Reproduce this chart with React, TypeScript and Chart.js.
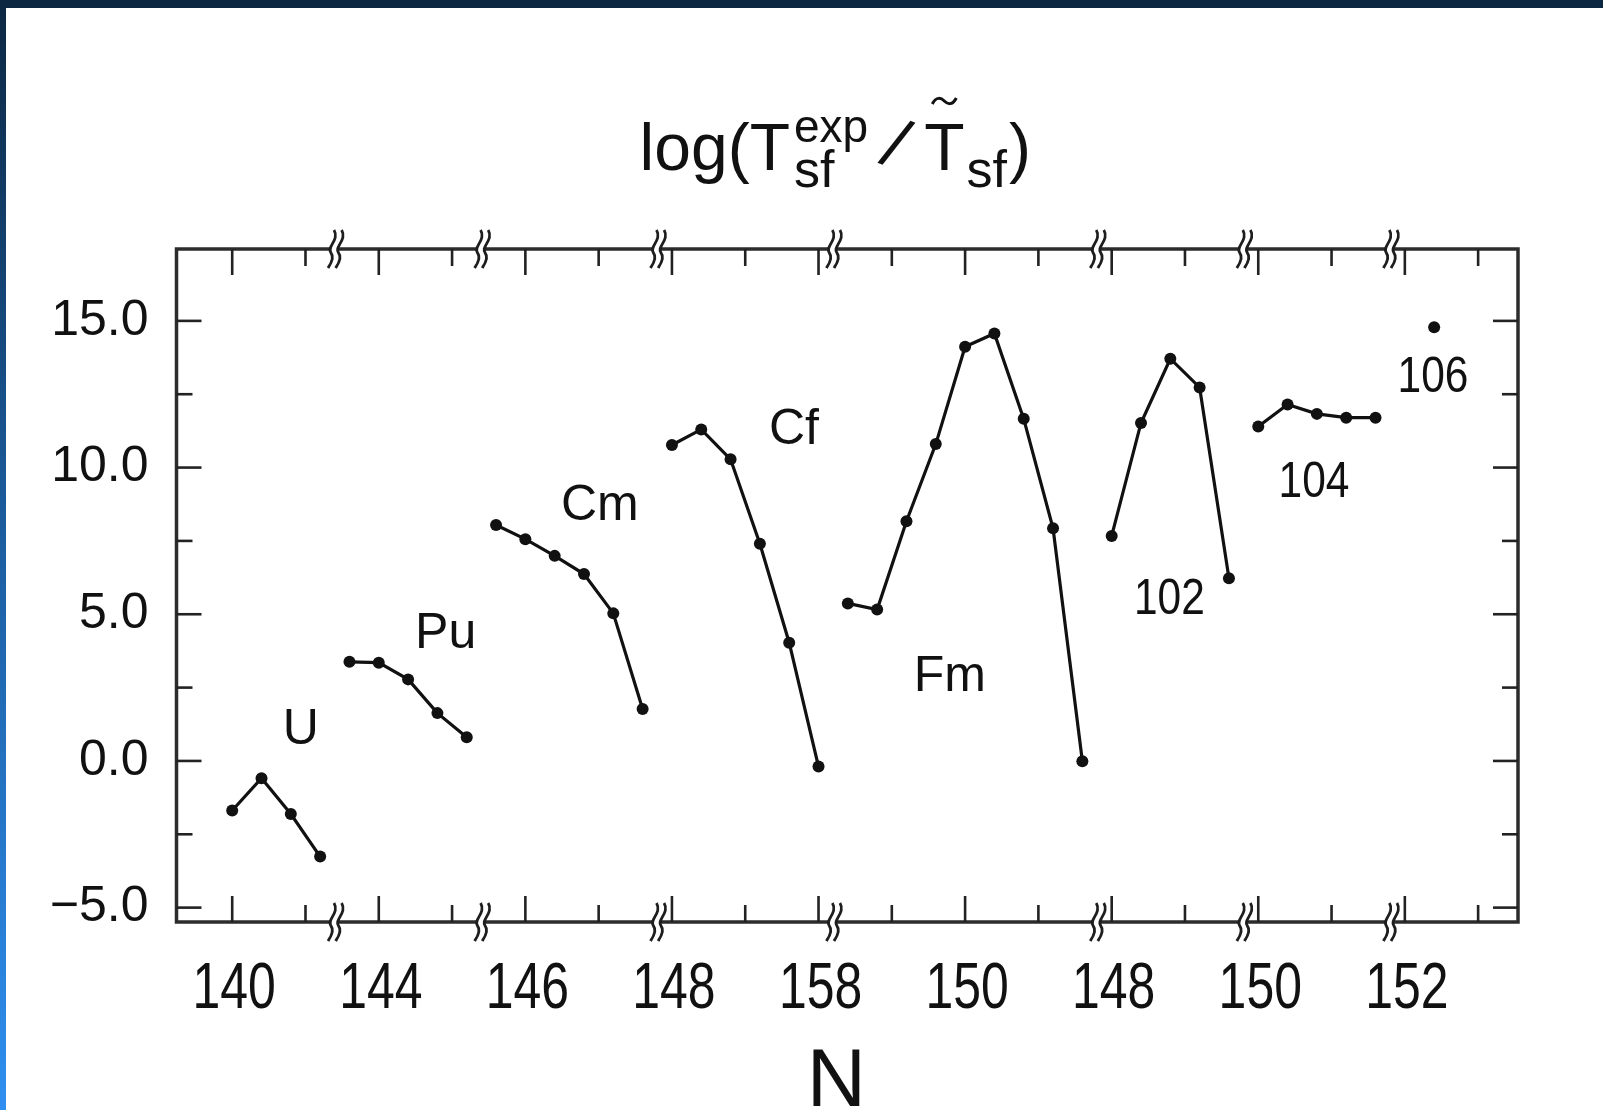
import React, { useEffect, useRef } from "react";
import { Chart, registerables } from "chart.js";

Chart.register(...registerables);

// ---------------- data ----------------
const groupNames = ["U", "Pu", "Cm", "Cf", "Fm", "102", "104", "106"];

const nU = [140, 142, 144, 146];
const logU = [-1.69, -0.59, -1.81, -3.26];
const nPu = [142, 144, 146, 148, 150];
const logPu = [3.38, 3.35, 2.78, 1.63, 0.81];
const nCm = [144, 146, 148, 150, 152, 154];
const logCm = [8.04, 7.56, 6.99, 6.37, 5.03, 1.77];
const nCf = [148, 150, 152, 154, 156, 158];
const logCf = [10.77, 11.3, 10.28, 7.4, 4.03, -0.19];
const nFm = [142, 144, 146, 148, 150, 152, 154, 156, 158];
const logFm = [5.37, 5.16, 8.17, 10.8, 14.12, 14.57, 11.66, 7.93, -0.01];
const n102 = [148, 150, 152, 154, 156];
const log102 = [7.67, 11.52, 13.71, 12.73, 6.23];
const n104 = [150, 152, 154, 156, 158];
const log104 = [11.4, 12.15, 11.83, 11.7, 11.7];
const n106 = [154];
const log106 = [14.78];

const groupN = [nU, nPu, nCm, nCf, nFm, n102, n104, n106];
const groupLog = [logU, logPu, logCm, logCf, logFm, log102, log104, log106];

// broken N axis: first N of each segment and its number of N-slots (step dN = 2)
const segmentFirstN = [140, 142, 144, 148, 142, 148, 150, 152];
const segmentSlots = [4, 5, 6, 6, 9, 5, 5, 4];

const xTickLabels = ["140", "144", "146", "148", "158", "150", "148", "150", "152"];
const yTickValues = [-5, 0, 5, 10, 15];
const yTickLabels = ["\u22125.0", "0.0", "5.0", "10.0", "15.0"];

// group-name anchors in axis coordinates (slot, log value)
const nameSlot = [2.34, 7.28, 12.54, 19.16, 24.48, 31.97, 36.9, 40.96];
const nameLog = [1.06, 4.33, 8.69, 11.28, 2.86, 5.47, 9.47, 13.05];

// ---------------- axis config ----------------
const X_MIN = -1.9;
const X_MAX = 43.86;
const Y_MIN = -5.49;
const Y_MAX = 17.45;
const X_MAJOR = 5;
const X_MINOR = 2.5;
const Y_MINOR = 2.5;

const FONT = '"Liberation Sans", Arial, sans-serif';
const INK = "#111111";
const FRAME = "#2c2c2c";

const segStart: number[] = [];
segmentSlots.reduce((acc, n, i) => {
  segStart[i] = acc;
  return acc + n;
}, 0);

function slotOf(g: number, n: number) {
  return segStart[g] + (n - segmentFirstN[g]) / 2;
}

function text(
  ctx: CanvasRenderingContext2D,
  s: string,
  x: number,
  y: number,
  size: number,
  sx = 1,
  align: CanvasTextAlign = "left",
  baseline: CanvasTextBaseline = "alphabetic",
  rot = 0
) {
  ctx.save();
  ctx.font = `${size}px ${FONT}`;
  ctx.textAlign = align;
  ctx.textBaseline = baseline;
  ctx.translate(x, y);
  if (rot) ctx.rotate(rot);
  ctx.scale(sx, 1);
  ctx.fillText(s, 0, 0);
  ctx.restore();
}

function measure(ctx: CanvasRenderingContext2D, s: string, size: number) {
  ctx.font = `${size}px ${FONT}`;
  return ctx.measureText(s).width;
}

function line(ctx: CanvasRenderingContext2D, x1: number, y1: number, x2: number, y2: number) {
  ctx.beginPath();
  ctx.moveTo(x1, y1);
  ctx.lineTo(x2, y2);
  ctx.stroke();
}

function breakMark(ctx: CanvasRenderingContext2D, x: number, cy: number) {
  ctx.save();
  ctx.fillStyle = "#ffffff";
  ctx.fillRect(x - 3.5, cy - 3, 7, 6);
  ctx.strokeStyle = "#1e1e1e";
  ctx.lineWidth = 2.8;
  for (const dx of [-3.8, 3.8]) {
    const x0 = x + dx;
    ctx.beginPath();
    ctx.moveTo(x0 + 3, cy - 19);
    ctx.bezierCurveTo(x0 + 9, cy - 9, x0 - 5, cy - 2, x0, cy + 4);
    ctx.bezierCurveTo(x0 + 4, cy + 9, x0 - 1, cy + 16, x0 - 3, cy + 19);
    ctx.stroke();
  }
  ctx.restore();
}

const decorPlugin = {
  id: "decor",
  afterDraw(chart: any) {
    const ctx: CanvasRenderingContext2D = chart.ctx;
    const a = chart.chartArea;
    const xs = chart.scales.x;
    const ys = chart.scales.y;
    ctx.save();

    // frame
    ctx.strokeStyle = FRAME;
    ctx.lineWidth = 3.5;
    ctx.strokeRect(a.left, a.top, a.right - a.left, a.bottom - a.top);

    // inward ticks, x
    ctx.lineWidth = 2.6;
    ctx.strokeStyle = "#222";
    for (let v = 0; v <= X_MAX; v += X_MINOR) {
      const px = xs.getPixelForValue(v);
      const major = Math.abs(v / X_MAJOR - Math.round(v / X_MAJOR)) < 1e-6;
      const len = major ? 26 : 17;
      line(ctx, px, a.top, px, a.top + len);
      line(ctx, px, a.bottom, px, a.bottom - len);
    }
    // inward ticks, y
    for (let v = yTickValues[0]; v <= Y_MAX; v += Y_MINOR) {
      const py = ys.getPixelForValue(v);
      const major = yTickValues.includes(v);
      const len = major ? 25 : 16;
      line(ctx, a.left, py, a.left + len, py);
      line(ctx, a.right, py, a.right - len, py);
    }

    // axis breaks
    for (let g = 1; g < segStart.length; g++) {
      const px = xs.getPixelForValue(segStart[g] - 0.5);
      breakMark(ctx, px, a.top);
      breakMark(ctx, px, a.bottom);
    }

    ctx.fillStyle = INK;
    // x tick labels
    xTickLabels.forEach((lab, k) => {
      const px = xs.getPixelForValue(k * X_MAJOR) + 2;
      text(ctx, lab, px, a.bottom + 68, 64, 0.78, "center", "middle");
    });
    // y tick labels
    yTickLabels.forEach((lab, k) => {
      const py = ys.getPixelForValue(yTickValues[k]);
      text(ctx, lab, a.left - 28, py, 50, 1, "right", "middle");
    });

    // axis title N
    const cx = (a.left + a.right) / 2 - 11;
    text(ctx, "N", cx, a.bottom + 184, 82, 1, "center", "alphabetic");

    // group names
    groupNames.forEach((name, g) => {
      const px = xs.getPixelForValue(nameSlot[g]);
      const py = ys.getPixelForValue(nameLog[g]);
      const numeric = /^\d+$/.test(name);
      text(ctx, name, px, py, 50, numeric ? 0.85 : 1, "center", "middle");
    });

    // title log(T_sf^exp / T~_sf)
    const MAIN = 66, SUB = 52, SUP = 46;
    const base = a.top - 79;
    const subBase = a.top - 62;
    const supBase = a.top - 107;
    const wLog = measure(ctx, "log(T", MAIN);
    const wExp = measure(ctx, "exp", SUP);
    const wSf = measure(ctx, "sf", SUB);
    const wSlash = 40;
    const wT = measure(ctx, "T", MAIN);
    const wP = measure(ctx, ")", MAIN);
    const g1 = 4, gA = 6, gB = 10;
    const total = wLog + g1 + Math.max(wExp, wSf) + gA + wSlash + gB + wT + 2 + wSf + 2 + wP;
    let x = cx - 1 - total / 2;
    text(ctx, "log(T", x, base, MAIN);
    x += wLog + g1;
    text(ctx, "exp", x, supBase, SUP);
    text(ctx, "sf", x, subBase, SUB);
    x += Math.max(wExp, wSf) + gA;
    text(ctx, "/", x + wSlash / 2, base - 22, 70, 1, "center", "middle", 0.4);
    x += wSlash + gB;
    text(ctx, "T", x, base, MAIN);
    // tilde over T
    const tx = x + wT / 2;
    const ty = base - 69;
    ctx.strokeStyle = INK;
    ctx.lineWidth = 3;
    ctx.beginPath();
    ctx.moveTo(tx - 12, ty + 3);
    ctx.bezierCurveTo(tx - 8, ty - 5, tx - 3, ty - 3, tx, ty);
    ctx.bezierCurveTo(tx + 3, ty + 3, tx + 8, ty + 5, tx + 12, ty - 3);
    ctx.stroke();
    x += wT + 2;
    text(ctx, "sf", x, subBase, SUB);
    x += wSf + 2;
    text(ctx, ")", x, base, MAIN);

    ctx.restore();
  },
};

export default function App() {
  const ref = useRef<HTMLCanvasElement | null>(null);

  useEffect(() => {
    if (!ref.current) return;
    const datasets = groupNames.map((name, g) => ({
      label: name,
      data: groupN[g].map((n, i) => ({ x: slotOf(g, n), y: groupLog[g][i] })),
      borderColor: INK,
      backgroundColor: INK,
      borderWidth: 3.2,
      pointRadius: 6,
      pointHoverRadius: 6,
      pointBorderWidth: 0,
      pointBackgroundColor: INK,
      showLine: true,
      tension: 0,
    }));
    const chart = new Chart(ref.current, {
      type: "line",
      data: { datasets },
      options: {
        responsive: false,
        devicePixelRatio: 1,
        animation: false,
        layout: { padding: { left: 176.5, right: 85, top: 249, bottom: 188 } },
        scales: {
          x: { type: "linear", min: X_MIN, max: X_MAX, display: false },
          y: { type: "linear", min: Y_MIN, max: Y_MAX, display: false },
        },
        plugins: { legend: { display: false }, tooltip: { enabled: false } },
        events: [],
      },
      plugins: [decorPlugin],
    } as any);
    return () => chart.destroy();
  }, []);

  return (
    <div
      style={{
        position: "fixed",
        left: 0,
        top: 0,
        width: 1603,
        height: 1110,
        background: "#ffffff",
        overflow: "hidden",
      }}
    >
      <canvas
        ref={ref}
        width={1603}
        height={1110}
        style={{ position: "absolute", left: 0, top: 0, width: 1603, height: 1110 }}
      />
      <div
        style={{ position: "absolute", left: 0, top: 0, width: 1603, height: 8, background: "#0c2742" }}
      />
      <div
        style={{
          position: "absolute",
          left: 0,
          top: 0,
          width: 6,
          height: 1110,
          background: "linear-gradient(#0c2742, #1b5a9a 45%, #2f8ff0)",
        }}
      />
    </div>
  );
}
